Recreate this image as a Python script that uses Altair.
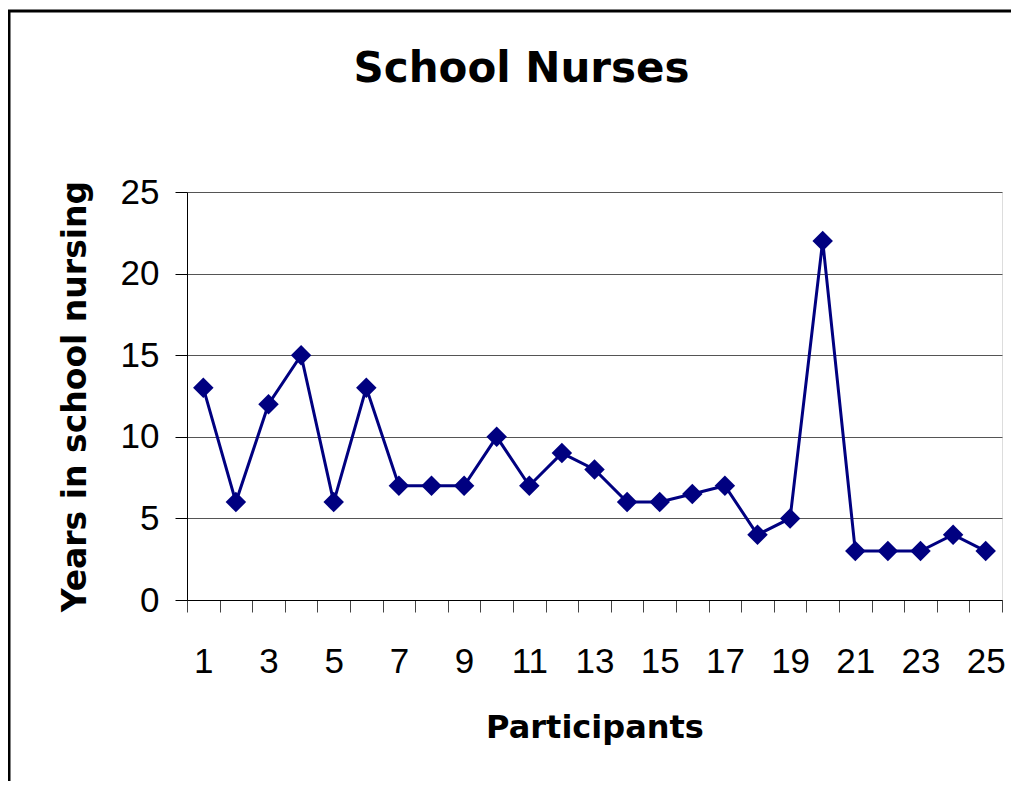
import altair as alt
import pandas as pd

participants = list(range(1, 26))
years = [13, 6, 12, 15, 6, 13, 7, 7, 7, 10, 7, 9, 8, 6, 6, 6.5, 7, 4, 5, 22, 3, 3, 3, 4, 3]
y_ticks = [0, 5, 10, 15, 20, 25]

df = pd.DataFrame({"Participant": participants, "Years": years})

NAVY = "#000080"
BOLD_FONT = "DejaVu Sans"
FONT = "Liberation Sans"

x_enc = alt.X(
    "Participant:O",
    scale=alt.Scale(paddingInner=0, paddingOuter=0),
    axis=alt.Axis(
        title="Participants",
        titleFont=BOLD_FONT,
        titleFontSize=32,
        titleFontWeight="bold",
        titleColor="black",
        titlePadding=33,
        labelFont=FONT,
        labelFontSize=35,
        labelColor="black",
        labelAngle=0,
        labelPadding=32,
        labelExpr="datum.value % 2 == 1 ? datum.label : ''",
        tickBand="extent",
        tickSize=12,
        tickColor="#444444",
        domainColor="black",
        grid=False,
    ),
)

y_enc = alt.Y(
    "Years:Q",
    scale=alt.Scale(domain=[0, 25], nice=False),
    axis=alt.Axis(
        title="Years in school nursing",
        titleFont=BOLD_FONT,
        titleFontSize=33,
        titleFontWeight="bold",
        titleColor="black",
        titlePadding=28,
        values=y_ticks,
        labelFont=FONT,
        labelFontSize=35,
        labelColor="black",
        labelPadding=16,
        tickSize=12,
        tickColor="black",
        domainColor="black",
        grid=True,
        gridColor="#555555",
        gridWidth=1.2,
    ),
)

base = alt.Chart(df)

line = base.mark_line(color=NAVY, strokeWidth=3).encode(x=x_enc, y=y_enc)
points = base.mark_point(
    shape="diamond", filled=True, color=NAVY, size=420, opacity=1
).encode(x="Participant:O", y="Years:Q")

frame = alt.Chart(pd.DataFrame({"f": [0]})).mark_rect(
    fillOpacity=0, stroke="black", strokeWidth=3
).encode(
    x=alt.value(-178), x2=alt.value(3000), y=alt.value(-181), y2=alt.value(3000)
)

chart = (
    alt.layer(line, points, frame)
    .properties(
        width=815,
        height=408,
        autosize=alt.AutoSizeParams(type="none"),
        padding={"left": 179, "top": 184, "right": 9, "bottom": 181},
        title=alt.TitleParams(
            text="School Nurses",
            font=BOLD_FONT,
            fontSize=42,
            fontWeight="bold",
            color="black",
            anchor="middle",
            frame="group",
            baseline="alphabetic",
            dx=-73,
            offset=-114,
        ),
    )
    .configure_view(stroke="transparent")
    .configure(background="white")
)

chart.save("out.html", embed_options={"renderer": "svg", "actions": False})
